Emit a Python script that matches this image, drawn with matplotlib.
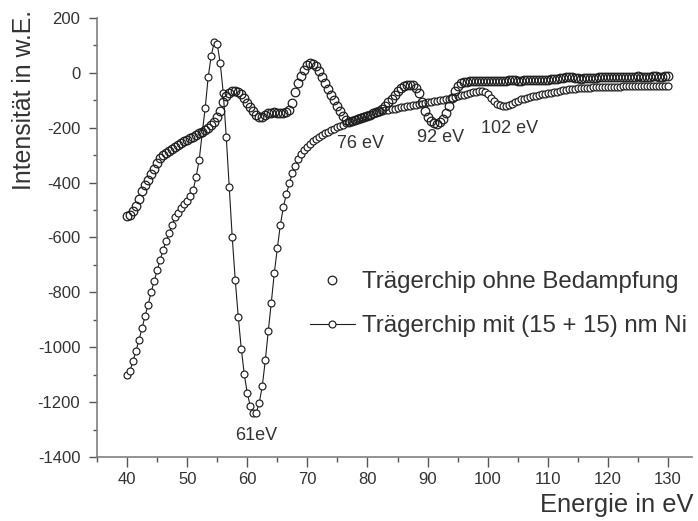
import numpy as np
import matplotlib
matplotlib.use("Agg")
import matplotlib.pyplot as plt

plt.rcParams.update({"font.family": ["Liberation Sans", "DejaVu Sans"],
                     "axes.unicode_minus": False})

# energy grid, 0.5 eV steps from 40 to 130 eV
energy = np.arange(40.0, 130.25, 0.5)

# Traegerchip ohne Bedampfung
ohne = [
    -523, -518, -505, -485, -458, -430, -408, -390, -368, -350,
    -330, -312, -300, -292, -284, -277, -270, -263, -257, -250,
    -244, -238, -232, -226, -220, -214, -207, -200, -190, -178,
    -162, -140, -108, -85, -72, -66, -65, -70, -78, -90,
    -110, -125, -140, -152, -160, -162, -155, -148, -145, -144,
    -145, -146, -145, -142, -135, -110, -70, -38, -10, 12,
    28, 36, 34, 25, 5, -15, -37, -58, -80, -100,
    -120, -140, -157, -170, -178, -176, -172, -168, -164, -160,
    -156, -152, -148, -144, -138, -130, -120, -108, -95, -80,
    -66, -55, -48, -44, -43, -45, -55, -75, -105, -138,
    -160, -175, -183, -185, -180, -168, -148, -122, -92, -66,
    -48, -38, -34, -32, -31, -30, -30, -30, -29, -29,
    -29, -28, -28, -28, -29, -29, -28, -27, -27, -27,
    -28, -28, -27, -26, -26, -26, -27, -27, -26, -25,
    -25, -24, -23, -22, -20, -18, -16, -15, -16, -18,
    -20, -21, -20, -19, -18, -17, -17, -16, -15, -14,
    -14, -14, -15, -15, -14, -14, -15, -16, -15, -14,
    -13, -14, -15, -15, -14, -13, -13, -14, -14, -12,
    -10,
]

# Traegerchip mit (15 + 15) nm Ni
ni = [
    -1100, -1085, -1050, -1012, -972, -930, -885, -845, -800, -760,
    -720, -683, -645, -612, -585, -553, -527, -510, -492, -478,
    -466, -447, -427, -378, -318, -220, -128, -15, 62, 112,
    105, 36, -72, -232, -417, -600, -755, -889, -1005, -1098,
    -1167, -1214, -1240, -1238, -1202, -1141, -1048, -940, -837, -729,
    -640, -555, -490, -442, -403, -365, -338, -315, -297, -282,
    -270, -260, -250, -242, -234, -226, -220, -214, -208, -203,
    -198, -193, -189, -184, -178, -174, -170, -166, -162, -158,
    -155, -152, -149, -146, -143, -140, -137, -135, -132, -130,
    -128, -126, -124, -122, -120, -118, -116, -114, -112, -110,
    -108, -106, -104, -102, -100, -98, -96, -94, -91, -88,
    -85, -82, -79, -76, -73, -70, -68, -66, -65, -68,
    -78, -90, -102, -112, -118, -122, -122, -118, -112, -106,
    -101, -97, -94, -91, -88, -85, -83, -80, -78, -76,
    -74, -72, -70, -68, -66, -64, -62, -60, -59, -58,
    -57, -56, -55, -54, -54, -53, -53, -52, -52, -51,
    -51, -50, -50, -50, -50, -49, -49, -49, -49, -48,
    -48, -48, -48, -48, -48, -47, -47, -47, -47, -47,
    -47,
]

peak_labels = ["61eV", "76 eV", "92 eV", "102 eV"]
peak_x = [61.5, 78.8, 92.1, 103.6]
peak_y = [-1323, -258, -236, -203]

INK = "#1e1e1e"
fig = plt.figure(figsize=(6.98, 5.21), dpi=100)
ax = fig.add_axes([0.139, 0.1228, 0.8524, 0.8427])

ax.plot(energy, ni, "-o", color=INK, lw=0.8, ms=5.0, mfc="white", mec=INK,
        mew=0.85, zorder=2, label="Trägerchip mit (15 + 15) nm Ni")
ax.plot(energy, ohne, "o", ms=6.2, mfc="none", mec=INK, mew=0.9, zorder=3,
        label="Trägerchip ohne Bedampfung")

for lab, x, y in zip(peak_labels, peak_x, peak_y):
    ax.text(x, y, lab, fontsize=13, color="#333333", ha="center", va="center")

ax.set_xlim(35, 134)
ax.set_ylim(-1400, 200)
ax.set_xticks(np.arange(40, 131, 10))
ax.set_xticks(np.arange(35, 134, 5), minor=True)
ax.set_yticks(np.arange(-1400, 201, 200))
ax.set_yticks(np.arange(-1400, 201, 100), minor=True)

for side in ("top", "right"):
    ax.spines[side].set_visible(False)
for side in ("left", "bottom"):
    ax.spines[side].set_color("#808080")
    ax.spines[side].set_linewidth(1.2)
ax.tick_params(which="both", direction="out", color="#555555", width=1.0,
               labelsize=12, labelcolor="#333333")
ax.tick_params(axis="x", which="major", length=7, pad=4)
ax.tick_params(axis="x", which="minor", length=3.5)
ax.tick_params(axis="y", which="major", length=6, pad=6)
ax.tick_params(axis="y", which="minor", length=3)

handles, labels = ax.get_legend_handles_labels()
ax.legend(handles[::-1], labels[::-1], loc="upper left",
          bbox_to_anchor=(0.321, 0.472), frameon=False, fontsize=17.3,
          handlelength=1.9, handletextpad=0.3, labelspacing=0.9,
          labelcolor="#333333")

fig.text(0.034, 0.981, "Intensität in w.E.", rotation=90, ha="center",
         va="top", fontsize=17.8, color="#333333")
fig.text(0.993, 0.0173, "Energie in eV", ha="right", va="baseline",
         fontsize=18.4, color="#333333")

fig.savefig("out.png", dpi=100)
